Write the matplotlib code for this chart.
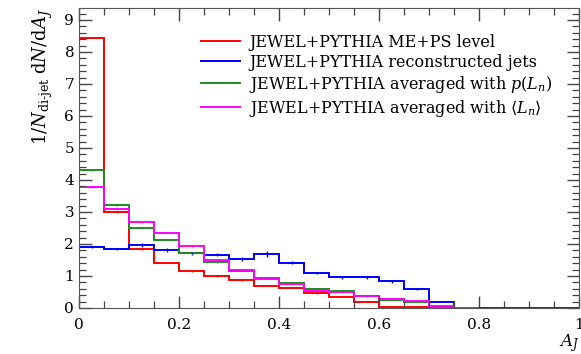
import numpy as np
import matplotlib.pyplot as plt
from matplotlib.ticker import MultipleLocator

plt.rcParams['font.family'] = ['DejaVu Serif']
plt.rcParams['mathtext.fontset'] = 'dejavuserif'

# bin edges of A_J
edges = np.round(np.arange(0, 0.80001, 0.05), 3)

# 1/N dN/dA_J per bin
me_ps = [8.45, 2.99, 1.84, 1.42, 1.16, 1.00, 0.86, 0.70, 0.64, 0.46, 0.35, 0.20, 0.04, 0.04, 0.02, 0.0]
reco = [1.90, 1.85, 1.97, 1.81, 1.71, 1.67, 1.53, 1.68, 1.42, 1.10, 0.96, 0.96, 0.84, 0.59, 0.20, 0.0]
avg_p = [4.31, 3.23, 2.49, 2.13, 1.71, 1.43, 1.17, 0.95, 0.77, 0.58, 0.53, 0.39, 0.25, 0.20, 0.04, 0.0]
avg_mean = [3.79, 3.08, 2.68, 2.35, 1.94, 1.50, 1.19, 0.92, 0.75, 0.53, 0.49, 0.36, 0.28, 0.22, 0.07, 0.0]

# statistical errors
err_me_ps = [0.02, 0.02, 0.02, 0.02, 0.02, 0.02, 0.02, 0.02, 0.02, 0.02, 0.01, 0.01, 0.01, 0.01, 0.0, 0.0]
err_reco = [0.04, 0.04, 0.06, 0.05, 0.05, 0.05, 0.05, 0.09, 0.06, 0.04, 0.04, 0.04, 0.05, 0.03, 0.02, 0.0]
err_avg_p = [0.03, 0.03, 0.02, 0.02, 0.02, 0.02, 0.02, 0.02, 0.02, 0.02, 0.02, 0.01, 0.01, 0.01, 0.0, 0.0]
err_avg_mean = [0.03, 0.03, 0.02, 0.02, 0.02, 0.02, 0.02, 0.02, 0.02, 0.02, 0.02, 0.01, 0.01, 0.01, 0.0, 0.0]

labels = ['JEWEL+PYTHIA ME+PS level',
          'JEWEL+PYTHIA reconstructed jets',
          r'JEWEL+PYTHIA averaged with $p(L_n)$',
          r'JEWEL+PYTHIA averaged with $\langle L_n\rangle$']
colors = ['#ff0000', '#0000ff', '#1e8c1e', '#ff00ff']
series = [me_ps, reco, avg_p, avg_mean]
errors = [err_me_ps, err_reco, err_avg_p, err_avg_mean]

fig = plt.figure(figsize=(5.81, 3.54), dpi=100)
ax = fig.add_axes([0.136, 0.130, 0.861, 0.847])

centers = 0.5 * (edges[:-1] + edges[1:])
for vals, err, col, lab in zip(series, errors, colors, labels):
    ax.stairs(vals, edges, color=col, lw=1.4, label=lab, baseline=None)
    ax.errorbar(centers, vals, yerr=err, fmt='none', ecolor=col, elinewidth=1.0)
# flat tail out to 1
ax.plot([0.8, 1.0], [0, 0], color='#800080', lw=1.4)

ax.set_xlim(0, 1)
ax.set_ylim(0, 9.37)
ax.xaxis.set_major_locator(MultipleLocator(0.2))
ax.xaxis.set_minor_locator(MultipleLocator(0.05))
ax.yaxis.set_major_locator(MultipleLocator(1))
ax.yaxis.set_minor_locator(MultipleLocator(0.2))
ax.xaxis.set_major_formatter(plt.FuncFormatter(lambda v, p: '%g' % round(v, 2)))
ax.tick_params(which='both', direction='in', top=True, right=True, labelsize=11, color='#444444')
ax.tick_params(which='major', length=9, width=1)
ax.tick_params(which='minor', length=5, width=0.9)
ax.tick_params(axis='x', pad=7)
for s in ax.spines.values():
    s.set_color('#555555')

ax.set_xlabel(r'$A_J$', loc='right', fontsize=12, labelpad=0)
ax.set_ylabel(r'$1/N_{\text{di-jet}}\;\mathrm{d}N/\mathrm{d}A_J$', loc='top', fontsize=13, labelpad=7)

ax.legend(loc='upper right', frameon=False, fontsize=11.5, handlelength=2.45,
          handletextpad=0.55, labelspacing=0.18, borderaxespad=0, bbox_to_anchor=(0.959, 0.935))

fig.savefig('out.png', dpi=100)
